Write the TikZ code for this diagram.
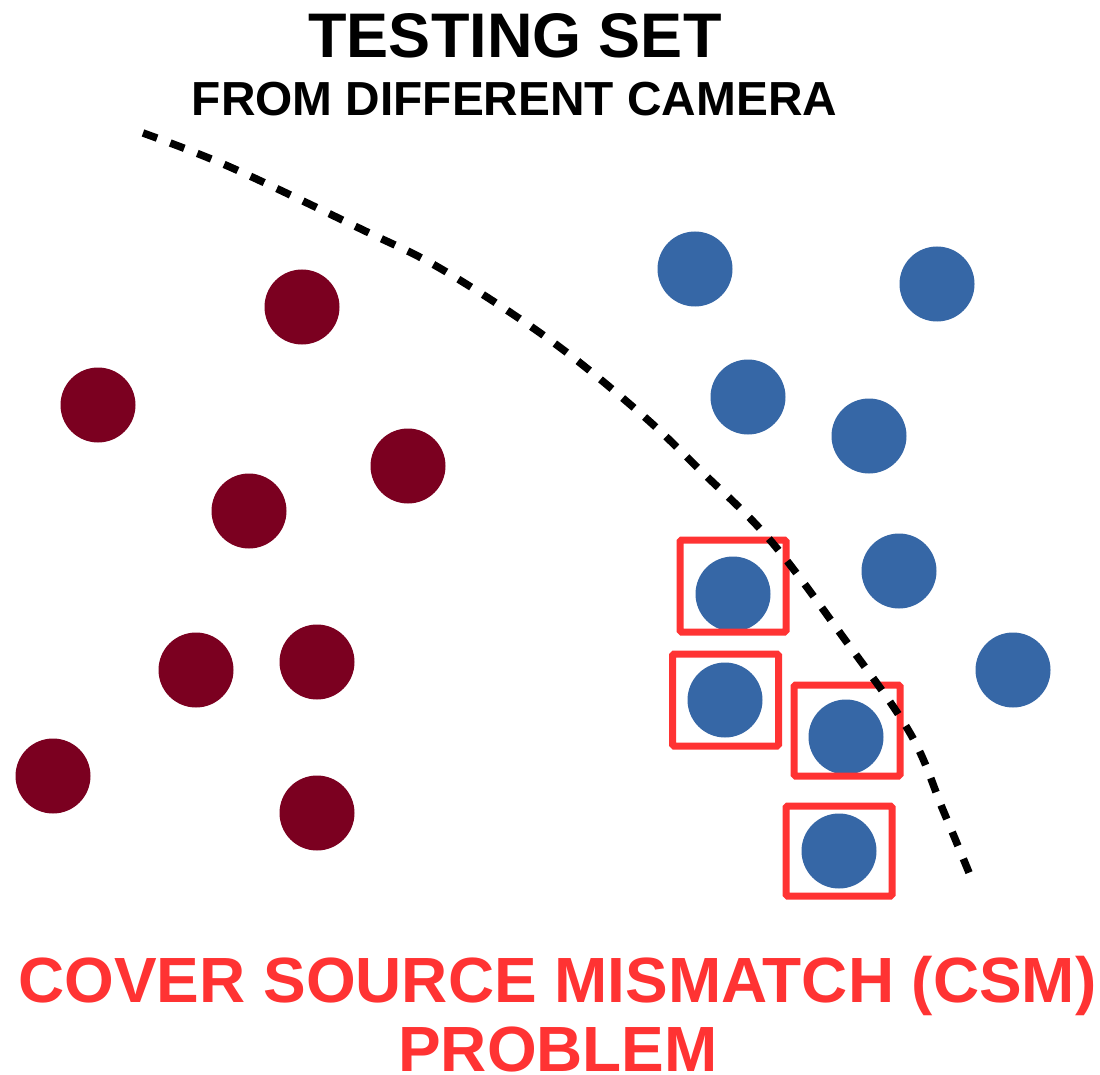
\documentclass[tikz,border=0pt]{standalone}
\usepackage{fontspec}
\setmainfont{Liberation Sans}
\definecolor{dotred}{RGB}{123,0,32}
\definecolor{dotblue}{RGB}{54,103,166}
\definecolor{hlred}{RGB}{255,51,51}
\begin{document}
\begin{tikzpicture}[x=1pt,y=-1pt,
  reddot/.style={circle,fill=dotred,minimum size=75pt,inner sep=0pt},
  bluedot/.style={circle,fill=dotblue,minimum size=75pt,inner sep=0pt},
  hlbox/.style={draw=hlred,line width=7pt,rounded corners=1.5pt,minimum width=106pt,minimum height=92pt,inner sep=0pt},
  boundary/.style={line width=7.5pt,dash pattern=on 15pt off 14pt},
  titletext/.style={font=\bfseries\fontsize{63}{63}\selectfont,anchor=base,inner sep=0pt},
  subtext/.style={font=\bfseries\fontsize{47.8}{47.8}\selectfont,anchor=base,inner sep=0pt},
  csmtext/.style={font=\bfseries\fontsize{63.9}{63.9}\selectfont,anchor=base,inner sep=0pt,text=hlred,text depth=0pt}]
\useasboundingbox (0,0) rectangle (1100,1075);
\fill[white] (0,0) rectangle (1100,1075);
% titles
\node[titletext] (title) at (515,58) {TESTING SET};
\node[subtext] (subtitle) at (514.5,116) {FROM DIFFERENT CAMERA};
% red dots
\node[reddot] (r1) at (302,307) {};
\node[reddot] (r2) at (98,405) {};
\node[reddot] (r3) at (408,466) {};
\node[reddot] (r4) at (249,511) {};
\node[reddot] (r5) at (196,670) {};
\node[reddot] (r6) at (317,662) {};
\node[reddot] (r7) at (53,776) {};
\node[reddot] (r8) at (317,813) {};
% blue dots
\node[bluedot] (b1) at (695,269) {};
\node[bluedot] (b2) at (937,284) {};
\node[bluedot] (b3) at (748,397) {};
\node[bluedot] (b4) at (869,436) {};
\node[bluedot] (b5) at (899,571) {};
\node[bluedot] (b6) at (1013,670) {};
\node[bluedot] (b7) at (733,594) {};
\node[bluedot] (b8) at (725,700) {};
\node[bluedot] (b9) at (846,737) {};
\node[bluedot] (b10) at (839,851) {};
% highlight boxes
\node[hlbox] (h1) at (733,586) {};
\node[hlbox] (h2) at (725.5,700) {};
\node[hlbox,minimum height=91pt] (h3) at (847,730.5) {};
\node[hlbox,minimum height=90pt] (h4) at (839,851) {};
% boundary
\draw[boundary] plot[smooth,tension=0.6] coordinates {(143,133) (230,167) (363,230) (443,270) (550,340) (640,413) (700,470) (770,540) (843,637) (910,733) (943,810) (970,875)};
% bottom text
\node[csmtext] (csm1) at (557.5,1002) {COVER SOURCE MISMATCH (CSM)};
\node[csmtext] (csm2) at (558,1071) {PROBLEM};
\end{tikzpicture}
\end{document}
